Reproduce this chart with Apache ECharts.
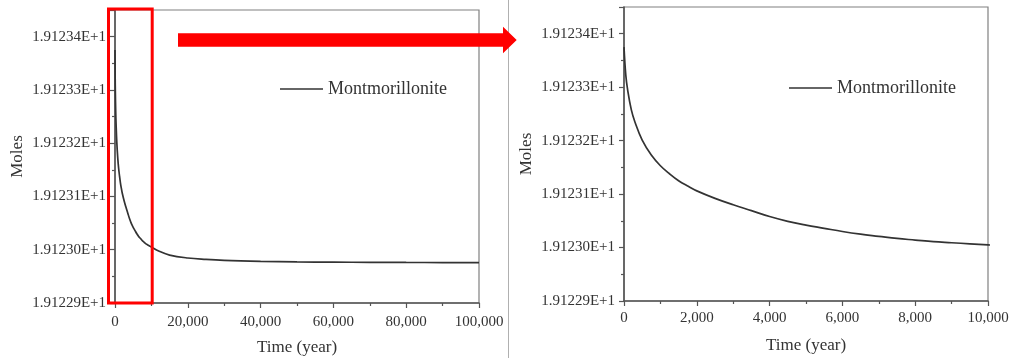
<!DOCTYPE html>
<html>
<head>
<meta charset="utf-8">
<script src="https://cdn.jsdelivr.net/npm/echarts@6/dist/echarts.min.js"></script>
<style>
html,body{margin:0;padding:0;background:#fff;}
#chart{width:1013px;height:358px;}
</style>
</head>
<body>
<div id="chart"></div>
<script>
// Time (years) and Montmorillonite moles
const timeYears = [0, 50, 100, 200, 300, 500, 750, 1000, 1250, 1500, 1750, 2000, 2500, 3000, 3500, 4000, 4500, 5000, 5500, 6000, 6500, 7000, 7500, 8000, 8500, 9000, 9500, 10000, 12000, 15000, 20000, 25000, 30000, 40000, 50000, 60000, 70000, 80000, 90000, 100000];
const moles = [19.123375, 19.123322, 19.123295, 19.123258, 19.123235, 19.123201, 19.123173, 19.123153, 19.123138, 19.123125, 19.123115, 19.123106, 19.123092, 19.12308, 19.123069, 19.123058, 19.123049, 19.123042, 19.123036, 19.12303, 19.123025, 19.123021, 19.123017, 19.123014, 19.123011, 19.123009, 19.123007, 19.123005, 19.1229975, 19.12299, 19.1229845, 19.1229818, 19.12298, 19.1229782, 19.1229772, 19.1229767, 19.1229764, 19.1229761, 19.1229759, 19.1229757];
const seriesName = 'Montmorillonite';
const yMin = 19.1229, yMax = 19.12345, yStep = 0.0001;
const xFullMax = 100000, xFullStep = 20000;
const xZoomMax = 10000, xZoomStep = 2000;

const FONT = "'Liberation Serif','Times New Roman',serif";
const TXT = '#333';

const points = timeYears.map((t, i) => [t, moles[i]]);

function yAxisCfg(gridIndex){
  return {
    gridIndex, type:'value', min:yMin, max:yMax, interval:yStep,
    name:'Moles', nameLocation:'middle', nameGap:89,
    nameTextStyle:{fontFamily:FONT, fontSize:17, color:TXT},
    axisLine:{show:true, lineStyle:{color:'#555', width:1.6}},
    axisTick:{show:true, inside:false, length:5, lineStyle:{color:'#555', width:1.2}},
    minorTick:{show:true, splitNumber:2, length:3, lineStyle:{color:'#555', width:1.2}},
    splitLine:{show:false},
    axisLabel:{fontFamily:FONT, fontSize:15, color:TXT, margin:9, showMaxLabel:false,
      formatter: v => (v/10).toFixed(5) + 'E+1'}
  };
}
function xAxisCfg(gridIndex, max, step, labelMargin, nameGap){
  return {
    gridIndex, type:'value', min:0, max:max, interval:step,
    name:'Time (year)', nameLocation:'middle', nameGap:nameGap,
    nameTextStyle:{fontFamily:FONT, fontSize:17, color:TXT},
    axisLine:{show:true, onZero:false, lineStyle:{color:'#555', width:1.6}},
    axisTick:{show:true, inside:false, length:5, lineStyle:{color:'#555', width:1.2}},
    minorTick:{show:true, splitNumber:2, length:3, lineStyle:{color:'#555', width:1.2}},
    splitLine:{show:false},
    axisLabel:{fontFamily:FONT, fontSize:15, color:TXT, margin:labelMargin,
      formatter: v => Math.round(v).toLocaleString('en-US')}
  };
}

const chart = echarts.init(document.getElementById('chart'), null, {renderer:'canvas'});
const legendBase = {data:[seriesName], padding:0, icon:'rect', itemWidth:43, itemHeight:1.6,
  textStyle:{fontFamily:FONT, fontSize:18, color:TXT}, selectedMode:false};
const lineBase = {name:seriesName, type:'line', data:points, showSymbol:false, symbol:'none',
  smooth:0.4, clip:true, lineStyle:{color:'#333', width:1.7}, itemStyle:{color:'#333'}};
const gridBase = {show:true, borderColor:'#808080', borderWidth:1.2, backgroundColor:'transparent',
  containLabel:false, outerBoundsMode:'none'};
const option = {
  animation:false,
  backgroundColor:'#fff',
  grid:[
    Object.assign({left:115, top:10, width:364, height:293}, gridBase),
    Object.assign({left:624, top:7, width:364, height:294}, gridBase)
  ],
  xAxis:[xAxisCfg(0, xFullMax, xFullStep, 12, 36.5), xAxisCfg(1, xZoomMax, xZoomStep, 10, 36)],
  yAxis:[yAxisCfg(0), yAxisCfg(1)],
  legend:[
    Object.assign({left:280, top:80}, legendBase),
    Object.assign({left:789, top:79}, legendBase)
  ],
  series:[
    Object.assign({xAxisIndex:0, yAxisIndex:0}, lineBase),
    Object.assign({xAxisIndex:1, yAxisIndex:1}, lineBase)
  ]
};
chart.setOption(option);

// annotations: highlight box over the first 10,000 years, arrow, and divider
const xR = chart.convertToPixel({xAxisIndex:0}, xZoomMax);
const yTop = chart.convertToPixel({yAxisIndex:0}, yMax);
const yBot = chart.convertToPixel({yAxisIndex:0}, yMin);
chart.setOption({
  graphic:[
    {type:'line', shape:{x1:508.5, y1:0, x2:508.5, y2:358}, style:{stroke:'#b0b0b0', lineWidth:1}, z:100},
    {type:'rect', shape:{x:108.5, y:yTop - 1, width:xR + 0.8 - 108.5, height:yBot - yTop + 1}, style:{fill:null, stroke:'#ff0000', lineWidth:3}, z:100},
    {type:'polygon', shape:{points:[[178,33.3],[503,33.3],[503,26.7],[516.7,40],[503,53.3],[503,46.7],[178,46.7]]}, style:{fill:'#ff0000'}, z:100}
  ]
});
</script>
</body>
</html>
